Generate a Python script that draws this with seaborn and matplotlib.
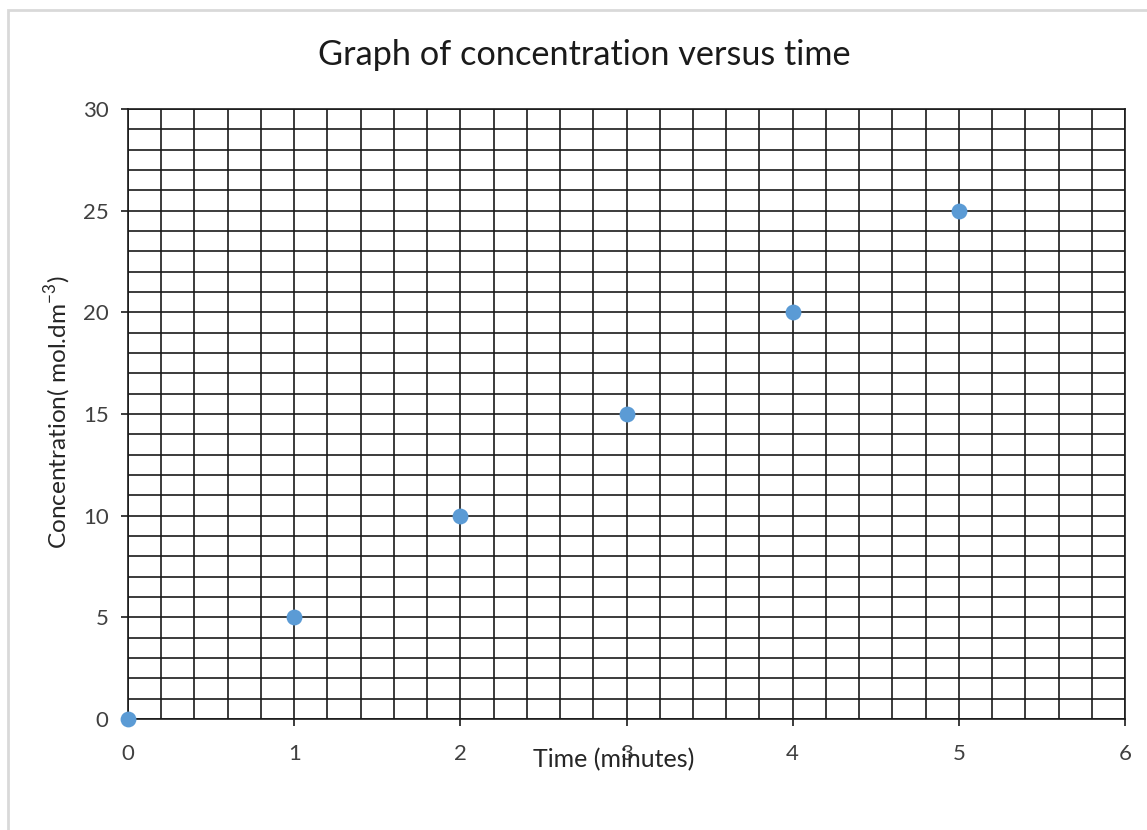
import matplotlib
matplotlib.use("Agg")
import matplotlib.pyplot as plt
from matplotlib.patches import Rectangle
from matplotlib.ticker import MultipleLocator
import seaborn as sns
import pandas as pd

# Measured concentration at each time point
time_minutes = [0, 1, 2, 3, 4, 5]
concentration = [0, 5, 10, 15, 20, 25]

sns.set_theme(style="white")
plt.rcParams["font.family"] = ["Lato", "DejaVu Sans"]

df = pd.DataFrame({"time": time_minutes, "conc": concentration})

W, H = 1147, 830
fig = plt.figure(figsize=(W / 100, H / 100), dpi=100)
ax = fig.add_axes([128 / W, 1 - 719 / H, (1125 - 128) / W, (719 - 109) / H])

# Chart-area frame
fig.patches.append(Rectangle((8 / W, -0.05), 1.2, 1 - 10 / H + 0.05,
                             transform=fig.transFigure, fill=False,
                             edgecolor="#d9d9d9", linewidth=2.0, zorder=0))

ax.set_xlim(0, 6)
ax.set_ylim(0, 30)
ax.xaxis.set_major_locator(MultipleLocator(1))
ax.xaxis.set_minor_locator(MultipleLocator(0.2))
ax.yaxis.set_major_locator(MultipleLocator(5))
ax.yaxis.set_minor_locator(MultipleLocator(1))

ax.grid(which="both", color="#1a1a1a", linewidth=1.2)
ax.set_axisbelow(True)
for side, sp in ax.spines.items():
    sp.set_visible(True)
    sp.set_color("#1a1a1a")
    sp.set_linewidth(1.2)

ax.tick_params(axis="both", which="major", direction="out", length=5, width=1.2,
               color="#1a1a1a", labelsize=16, labelcolor="#404040")
ax.tick_params(axis="x", which="major", bottom=True, pad=13)
ax.tick_params(axis="y", which="major", left=True, pad=9)
ax.tick_params(which="minor", length=0)

sns.scatterplot(data=df, x="time", y="conc", ax=ax, color="#5b9bd5", s=130,
                edgecolor="#5b9bd5", linewidth=0, clip_on=False, zorder=5)

fig.text(584 / W, 1 - 55 / H, "Graph of concentration versus time", fontsize=24.7,
         color="#1a1a1a", ha="center", va="center")
ax.set_xlabel("Time (minutes)", fontsize=18, color="#262626")
ax.set_ylabel(r"Concentration( mol.dm$^{\mathregular{-3}}$)", fontsize=17.6, color="#262626")
ax.xaxis.set_label_coords((614 - 128) / 997, -(748 - 719) / 610)
ax.yaxis.set_label_coords(-(128 - 73) / 997, (719 - 412) / 610)

fig.savefig("out.png", dpi=100, facecolor="white")
